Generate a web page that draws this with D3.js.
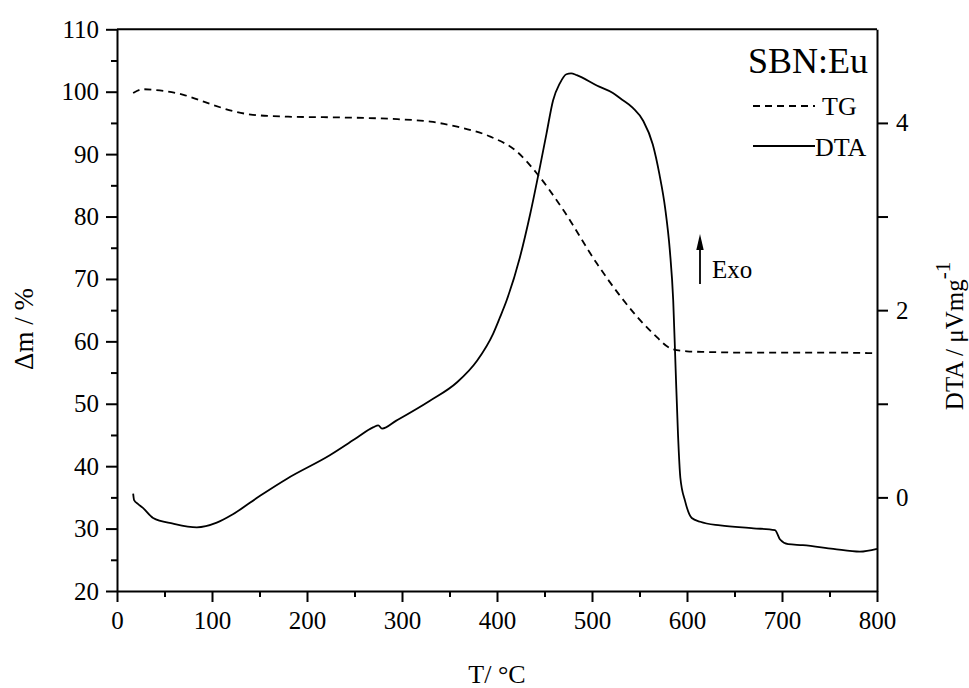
<!DOCTYPE html>
<html>
<head>
<meta charset="utf-8">
<script src="https://cdn.jsdelivr.net/npm/d3@7"></script>
<style>
  body { margin: 0; background: #fff; }
  svg { display: block; }
  svg text { font-family: "Liberation Serif", "Times New Roman", serif !important; fill: #000; }
</style>
</head>
<body>
<svg id="chart" width="969" height="688" font-family="Liberation Serif, serif"></svg>
<script>
// ---- data ----
const tgT  = [17, 27, 45, 70, 95, 122, 143, 180, 224, 260, 295, 330, 358, 393, 421, 442, 470, 505, 530, 564, 584, 600, 620, 660, 700, 750, 800];
const tgV  = [99.8, 100.4, 100.2, 99.5, 98.2, 96.9, 96.3, 96.0, 95.9, 95.8, 95.6, 95.2, 94.4, 92.8, 90.4, 86.9, 81.0, 72.5, 67.2, 61.3, 58.8, 58.4, 58.3, 58.2, 58.2, 58.2, 58.1];

const dtaT = [17, 18, 22, 27, 38, 59, 84, 105, 122, 151, 179, 224, 250, 270, 275, 279, 294, 329, 358, 379, 396, 403, 410, 424, 435, 445, 452, 459, 466, 473, 478, 484, 505, 522, 530, 543, 554, 564, 571, 577, 582, 585.5, 588, 590.5, 593, 598, 605, 614, 635, 670, 692.6, 698, 706.5, 722, 754, 782, 800];
const dtaV = [0.04, -0.03, -0.07, -0.11, -0.22, -0.28, -0.32, -0.27, -0.18, 0.02, 0.2, 0.45, 0.62, 0.75, 0.77, 0.735, 0.82, 1.03, 1.23, 1.46, 1.75, 1.92, 2.1, 2.56, 3.03, 3.52, 3.88, 4.24, 4.42, 4.52, 4.53, 4.51, 4.4, 4.32, 4.26, 4.16, 4.02, 3.77, 3.45, 3.09, 2.63, 2.1, 1.38, 0.68, 0.21, -0.04, -0.22, -0.26, -0.30, -0.33, -0.35, -0.45, -0.50, -0.51, -0.55, -0.58, -0.55];

const xTicks = [0, 100, 200, 300, 400, 500, 600, 700, 800];
const yLeftTicks = [20, 30, 40, 50, 60, 70, 80, 90, 100, 110];
const yRightTicks = [0, 2, 4];

const xTitle = "T/ \u00B0C";
const yLeftTitle = "\u0394m / %";
const sampleLabel = "SBN:Eu";
const seriesNames = ["TG", "DTA"];

// ---- layout ----
const FONT = "Liberation Serif, serif";
const svg = d3.select("#chart");
const L = 117, R = 877, T = 29.3, B = 591;

const x = d3.scaleLinear().domain([0, 800]).range([L, R]);
const yL = d3.scaleLinear().domain([20, 110]).range([B, T]);
const yR = d3.scaleLinear().domain([-1, 5]).range([B, T]);

const fs = 25;

function styleAxis(g) {
  g.attr("font-family", FONT).attr("font-size", fs);
  g.select(".domain").attr("stroke", "#000").attr("stroke-width", 2);
  g.selectAll(".tick line").attr("stroke", "#000").attr("stroke-width", 2);
  g.selectAll(".tick text").attr("font-family", FONT).attr("font-size", fs).attr("fill", "#000");
}

// top border
svg.append("line").attr("x1", L).attr("x2", R).attr("y1", T).attr("y2", T)
  .attr("stroke", "#000").attr("stroke-width", 2);

// x minor ticks
const xMinor = svg.append("g").attr("transform", `translate(0,${B})`)
  .call(d3.axisBottom(x).tickValues(d3.range(50, 800, 100)).tickSize(6).tickFormat(""));
xMinor.select(".domain").remove();
xMinor.selectAll(".tick line").attr("stroke", "#000").attr("stroke-width", 2);
// x major
const xAx = svg.append("g").attr("transform", `translate(0,${B})`)
  .call(d3.axisBottom(x).tickValues(xTicks).tickFormat(d3.format("d")).tickSize(11).tickSizeOuter(0).tickPadding(9));
styleAxis(xAx);

// left minor
const lMinor = svg.append("g").attr("transform", `translate(${L},0)`)
  .call(d3.axisLeft(yL).tickValues(d3.range(25, 110, 10)).tickSize(6).tickFormat(""));
lMinor.select(".domain").remove();
lMinor.selectAll(".tick line").attr("stroke", "#000").attr("stroke-width", 2);
const lAx = svg.append("g").attr("transform", `translate(${L},0)`)
  .call(d3.axisLeft(yL).tickValues(yLeftTicks).tickFormat(d3.format("d")).tickSize(11).tickSizeOuter(0).tickPadding(7));
styleAxis(lAx);

// right minor
const rMinor = svg.append("g").attr("transform", `translate(${R},0)`)
  .call(d3.axisRight(yR).tickValues([1, 3]).tickSize(11).tickFormat(""));
rMinor.select(".domain").remove();
rMinor.selectAll(".tick line").attr("stroke", "#000").attr("stroke-width", 2);
const rAx = svg.append("g").attr("transform", `translate(${R},0)`)
  .call(d3.axisRight(yR).tickValues(yRightTicks).tickFormat(d3.format("d")).tickSize(11).tickSizeOuter(0).tickPadding(8));
styleAxis(rAx);

// lines
const tgLine = d3.line().x((d, i) => x(tgT[i])).y((d, i) => yL(tgV[i])).curve(d3.curveMonotoneX);
svg.append("path").datum(tgT).attr("d", tgLine)
  .attr("fill", "none").attr("stroke", "#000").attr("stroke-width", 1.8)
  .attr("stroke-dasharray", "7,5");

const dtaLine = d3.line().x((d, i) => x(dtaT[i])).y((d, i) => yR(dtaV[i])).curve(d3.curveMonotoneX);
svg.append("path").datum(dtaT).attr("d", dtaLine)
  .attr("fill", "none").attr("stroke", "#000").attr("stroke-width", 1.8);

// axis titles
svg.append("text").attr("x", (L + R) / 2).attr("y", 683).attr("text-anchor", "middle")
  .attr("font-size", 26).text(xTitle);

svg.append("text").attr("transform", "translate(33,329) rotate(-90)").attr("text-anchor", "middle")
  .attr("font-size", 27).text(yLeftTitle);

const rt = svg.append("text").attr("transform", "translate(963,336) rotate(-90)").attr("text-anchor", "middle")
  .attr("font-size", 25);
rt.append("tspan").text("DTA / \u03BCVmg");
rt.append("tspan").attr("dy", -13).attr("font-size", 21).text("-1");

// legend
svg.append("text").attr("x", 868).attr("y", 73).attr("text-anchor", "end")
  .attr("font-size", 36).text(sampleLabel);
svg.append("line").attr("x1", 753).attr("x2", 815).attr("y1", 106).attr("y2", 106)
  .attr("stroke", "#000").attr("stroke-width", 1.8).attr("stroke-dasharray", "7,5");
svg.append("text").attr("x", 822).attr("y", 115).attr("font-size", 26).text(seriesNames[0]);
svg.append("line").attr("x1", 753).attr("x2", 815).attr("y1", 146).attr("y2", 146)
  .attr("stroke", "#000").attr("stroke-width", 1.8);
svg.append("text").attr("x", 815).attr("y", 156).attr("font-size", 26).text(seriesNames[1]);

// Exo arrow
svg.append("line").attr("x1", 700).attr("x2", 700).attr("y1", 284).attr("y2", 246)
  .attr("stroke", "#000").attr("stroke-width", 1.8);
svg.append("path").attr("d", "M700,234 L696.3,250 L703.7,250 Z").attr("fill", "#000");
svg.append("text").attr("x", 712).attr("y", 278).attr("font-size", 25).text("Exo");
</script>
</body>
</html>
